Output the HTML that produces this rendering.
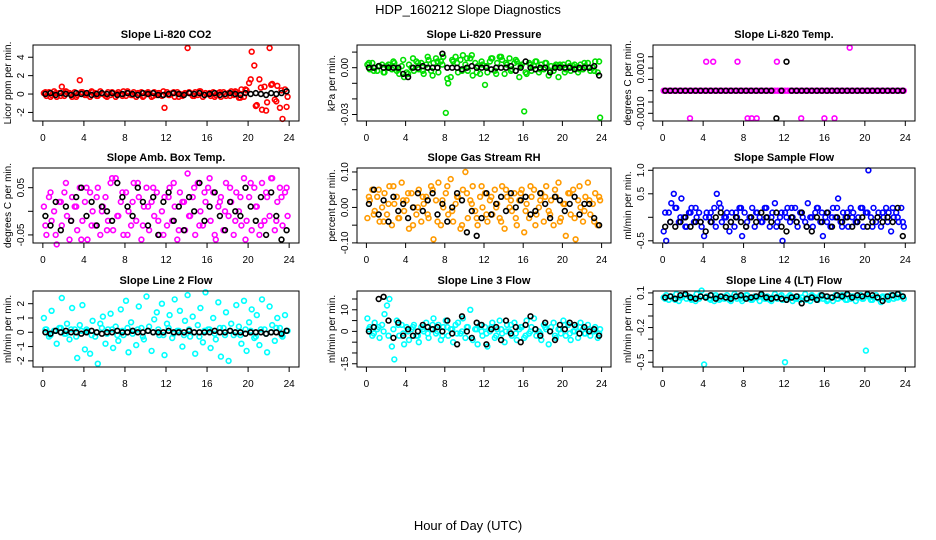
<!DOCTYPE html>
<html><head><meta charset="utf-8"><title>HDP_160212 Slope Diagnostics</title>
<style>
html,body{margin:0;padding:0;background:#fff;}
svg{display:block;font-family:"Liberation Sans",Arial,sans-serif;}
</style></head>
<body>
<svg id="chart" width="936" height="540" viewBox="0 0 936 540">
<text x="468" y="14" text-anchor="middle" font-size="13">HDP_160212  Slope Diagnostics</text>
<text x="468" y="530" text-anchor="middle" font-size="13">Hour of Day (UTC)</text>
</svg>
<script>
// shared hour values
const hoursC = [0.1,0.35,0.6,0.85,1.1,1.35,1.6,1.85,2.1,2.35,2.6,2.85,3.1,3.35,3.6,3.85,4.1,4.35,4.6,4.85,5.1,5.35,5.6,5.85,6.1,6.35,6.6,6.85,7.1,7.35,7.6,7.85,8.1,8.35,8.6,8.85,9.1,9.35,9.6,9.85,10.1,10.35,10.6,10.85,11.1,11.35,11.6,11.85,12.1,12.35,12.6,12.85,13.1,13.35,13.6,13.85,14.1,14.35,14.6,14.85,15.1,15.35,15.6,15.85,16.1,16.35,16.6,16.85,17.1,17.35,17.6,17.85,18.1,18.35,18.6,18.85,19.1,19.35,19.6,19.85,20.1,20.35,20.6,20.85,21.1,21.35,21.6,21.85,22.1,22.35,22.6,22.85,23.1,23.35,23.6,23.85];
const hoursB = [0.25,0.75,1.25,1.75,2.25,2.75,3.25,3.75,4.25,4.75,5.25,5.75,6.25,6.75,7.25,7.75,8.25,8.75,9.25,9.75,10.25,10.75,11.25,11.75,12.25,12.75,13.25,13.75,14.25,14.75,15.25,15.75,16.25,16.75,17.25,17.75,18.25,18.75,19.25,19.75,20.25,20.75,21.25,21.75,22.25,22.75,23.25,23.75];
const xTicks = [0,4,8,12,16,20,24];

// panel 1 CO2
const co2Color = [0.1,-0.2,0.2,-0.1,0.3,-0.3,0.1,0.8,-0.2,0.2,0.1,-0.3,0.2,-0.1,1.5,0.2,-0.1,0.1,-0.3,0.2,0.1,-0.2,0.3,0,-0.2,0.2,-0.1,0.1,-0.3,0.2,0,0.3,-0.2,0.1,-0.1,0.2,-0.3,0.1,0.2,-0.2,0.1,0,-0.3,0.2,-0.1,0.1,-0.2,-1.5,0.2,-0.1,0.1,-0.3,0.2,0,-0.2,0.1,5.0,0.1,-0.2,0.2,-0.1,0.3,-0.3,0.1,0,-0.2,0.2,-0.1,0.1,-0.3,0.2,-0.2,0.1,0.3,-0.1,0.2,-0.4,0.5,-0.3,0.4,1.2,4.6,3.1,-1.2,1.6,-1.7,0.8,-0.9,5.0,1.1,-0.6,0.9,-1.5,-2.7,0.5,-0.3];
const co2Band = [0.2,-0.3,0.1,-0.2,0.3,0,-0.3,0.2,-0.1,0.3,-0.2,0.1,-0.3,0.2,0,-0.2,0.3,-0.1,0.1,-0.3,0.2,-0.2,0.1,0.3,-0.1,0.2,-0.3,0,0.2,-0.2,0.3,-0.1,0.1,-0.3,0.2,0,-0.2,0.3,-0.4,0.5,1.6,-1.3,0.7,-1.8,1.0,-0.8,0.4,-1.4];
const co2Black = [0,0.1,-0.1,0.1,0,-0.1,0.1,0,0.1,-0.1,0,0.1,0,0.1,-0.1,0,0.1,0,-0.1,0.1,0,0.1,-0.1,-0.1,0,0.1,0,-0.1,0.1,0,0.1,-0.1,0,0.1,-0.1,0,0.1,0,-0.1,0.1,0,0.1,0,-0.1,0.1,0,0.1,0.3];
const co2Ticks = [-2,0,2,4];
const co2Labels = ["-2","0","2","4"];

// panel 2 pressure
const presColor = [.002,-.001,.003,.000,-.002,.001,.002,-.003,.001,.000,-.001,.003,-.002,-.004,.001,-.006,-.003,.002,.000,-.002,.004,-.001,.003,-.004,.002,.005,-.002,.003,.006,-.003,.004,.007,-.029,-.010,-.006,.004,.007,-.003,.005,.008,.002,-.002,.006,-.005,.003,.001,-.004,.002,-.011,-.003,.004,.006,-.002,.003,.007,.005,-.004,.002,.006,-.001,.003,.004,-.006,.002,-.028,-.004,.003,-.002,.001,.004,-.003,.002,-.001,.003,-.005,.001,-.002,.002,-.006,.001,.002,-.001,.003,-.002,.001,.000,-.003,.002,-.001,.001,.003,-.002,.000,.004,-.003,-.032];
const presBand = [.003,-.002,.001,-.003,.002,.004,-.001,.005,-.004,.006,.003,-.002,.007,-.005,.004,.002,-.007,.005,.003,-.002,.006,.008,-.003,.004,.001,.006,-.004,.007,.003,-.002,.005,.001,-.003,.002,.004,-.001,.003,-.002,.001,.002,-.003,.001,.002,-.001,.003,.000,-.002,.004];
const presBlack = [0,0,0.001,0,0,0,0,-.004,-.006,0,0,.001,0,0,0,.009,0,0,0,-.001,0,.001,0,0,0,-.001,0,0,0,.001,-.002,0,.004,0,-.001,0,0,-.003,0,0,0,0,-.001,0,0,0,.001,-.005];
const presTicks = [-0.03,-0.02,-0.01,0,0.01];
const presLabels = ["-0.03","","","0.00",""];

// panel 3 Li-820 temp
const tempMain = [0,0,0,0,0,0,0,0,0,0,0,0,0,0,0,0,0,0,0,0,0,0,0,0,0,0,0,0,0,0,0,0,0,0,0,0,0,0,0,0,0,0,0,0,0,0,0,0,0,0,0,0,0,0,0,0,0,0,0,0,0,0,0,0,0,0,0,0,0,0,0,0,0,0,0,0,0,0,0,0,0,0,0,0,0,0,0,0,0,0,0,0,0,0,0,0];
const tempOutHours = [4.3,5.0,7.4,11.3,18.5,2.7,8.4,8.8,9.3,13.7,16.0,17.0];
const tempOutValues = [0.00128,0.00128,0.00128,0.00128,0.0019,-0.00122,-0.00122,-0.00122,-0.00122,-0.00122,-0.00122,-0.00122];
const tempBlack = [0,0,0,0,0,0,0,0,0,0,0,0,0,0,0,0,0,0,0,0,0,0,-0.00122,0,0.00128,0,0,0,0,0,0,0,0,0,0,0,0,0,0,0,0,0,0,0,0,0,0,0];
const tempTicks = [-0.001,-0.0005,0,0.0005,0.001,0.0015];
const tempLabels = ["-0.0010","","","","0.0010",""];

// panel 4 amb box temp
const ambColor = [0.01,-0.05,0.03,-0.02,0.00,-0.07,0.02,-0.03,0.04,-0.01,-0.06,0.03,0.01,-0.04,0.05,-0.02,0.02,-0.06,0.04,0.00,-0.03,0.05,-0.05,0.01,0.03,-0.02,0.06,-0.04,0.07,-0.01,0.02,-0.05,0.04,0.00,-0.03,0.06,-0.02,0.03,-0.06,0.01,0.05,-0.04,0.02,-0.01,0.04,-0.05,0.00,0.03,-0.03,0.05,-0.02,0.01,-0.06,0.04,0.02,-0.04,0.08,-0.01,0.03,-0.05,0.06,0.00,-0.03,0.02,0.05,-0.02,0.04,-0.06,0.01,0.03,-0.04,0.06,-0.01,0.02,-0.05,0.04,0.00,-0.03,0.07,-0.02,0.03,-0.04,0.05,0.01,-0.05,0.06,-0.02,0.03,-0.01,0.07,-0.04,0.02,0.05,-0.03,0.04,-0.01];
const ambBand = [-0.03,0.04,-0.05,0.02,0.06,-0.02,0.01,-0.06,0.05,-0.03,0.03,0.00,-0.04,0.07,-0.01,0.04,-0.05,0.02,0.06,-0.03,0.01,0.05,-0.02,-0.05,0.03,0.06,-0.04,0.02,-0.01,0.05,-0.03,0.04,0.07,-0.05,0.02,0.00,0.05,-0.02,0.03,-0.06,0.06,0.01,-0.03,0.04,0.07,-0.02,0.03,0.05];
const ambBlack = [-0.01,-0.03,0.02,-0.04,0.01,-0.02,0.03,0.05,-0.01,0.02,-0.03,0.01,0.00,-0.02,0.06,0.03,0.01,-0.01,0.05,0.02,-0.03,0.03,-0.05,0.02,0.04,-0.02,0.01,-0.04,0.03,0.00,0.06,-0.02,0.01,0.04,-0.01,-0.04,0.02,0.00,-0.01,0.05,0.01,-0.02,0.03,-0.05,0.04,-0.01,-0.06,-0.04];
const ambTicks = [-0.05,0,0.05];
const ambLabels = ["-0.05","","0.05"];

// panel 5 gas stream RH
const rhColor = [-0.03,0.02,0.05,-0.01,0.03,-0.04,0.00,0.04,-0.02,0.06,-0.05,0.01,0.03,-0.03,0.07,-0.01,0.02,-0.06,0.04,0.00,-0.02,0.05,-0.04,0.01,0.03,-0.03,0.06,-0.09,0.02,0.07,-0.05,0.00,0.04,-0.02,0.08,-0.04,0.01,0.03,-0.06,0.05,0.10,-0.03,0.02,0.06,-0.01,-0.05,0.03,0.00,0.04,-0.04,0.02,-0.02,0.05,0.01,-0.03,0.06,-0.06,0.03,0.00,-0.01,0.04,-0.05,0.02,0.05,-0.07,0.01,-0.03,0.03,0.05,-0.02,0.00,0.04,-0.04,0.06,-0.01,0.02,-0.05,0.03,0.07,-0.03,0.01,-0.08,0.04,-0.02,0.05,-0.09,0.02,0.00,-0.04,0.03,0.07,-0.02,0.01,0.04,-0.05,0.02];
const rhBand = [0.03,-0.02,0.05,-0.04,0.01,0.06,-0.03,0.02,0.04,-0.05,0.00,0.03,-0.02,0.05,-0.04,0.02,0.06,-0.01,0.03,-0.05,0.04,0.01,-0.03,0.06,-0.02,0.03,0.00,-0.04,0.05,0.02,-0.03,0.04,-0.01,0.06,-0.05,0.02,0.03,-0.02,0.05,-0.04,0.01,0.04,-0.03,0.06,-0.01,0.02,-0.04,0.03];
const rhBlack = [0.01,0.05,-0.02,0.02,-0.04,0.03,-0.01,0.01,-0.03,0.00,0.04,-0.01,0.02,0.04,-0.02,0.01,-0.04,0.00,0.04,0.02,-0.07,-0.01,-0.08,-0.03,0.04,-0.02,0.01,0.03,-0.01,0.04,0.00,0.02,0.03,-0.02,-0.01,0.04,0.01,-0.03,0.03,0.02,-0.01,0.01,0.03,-0.02,0.01,0.01,-0.03,-0.05];
const rhTicks = [-0.1,-0.05,0,0.05,0.1];
const rhLabels = ["-0.10","","0.00","","0.10"];

// panel 6 sample flow
const sfColor = [-0.3,-0.5,0.1,0.3,0.5,0.2,-0.1,0.4,0.0,-0.2,0.1,0.2,-0.1,0.0,0.1,-0.2,-0.4,0.1,0.0,-0.1,0.2,0.5,0.3,-0.1,0.0,0.1,-0.3,0.1,-0.2,0.0,0.2,-0.4,0.1,-0.1,0.0,0.2,-0.2,0.1,0.0,-0.1,0.2,0.0,-0.2,0.1,0.3,-0.1,0.0,-0.5,0.1,0.2,-0.1,0.0,0.2,-0.2,0.1,0.0,-0.1,0.3,0.0,-0.2,0.1,0.2,-0.1,-0.4,0.0,0.1,-0.2,0.2,0.0,0.4,-0.1,0.1,0.0,-0.2,0.2,0.1,-0.1,0.0,0.2,-0.2,0.1,1.0,0.0,0.2,-0.1,0.1,-0.2,0.0,0.2,0.1,-0.3,0.0,0.1,-0.1,0.2,-0.2];
const sfBand = [0.1,-0.1,0.2,0.0,-0.2,0.1,0.2,-0.1,0.0,0.1,-0.2,0.2,0.0,-0.1,0.1,0.2,-0.2,0.0,0.1,-0.1,0.2,0.0,-0.2,0.1,0.0,0.2,-0.1,0.1,-0.2,0.0,0.2,0.1,-0.1,0.0,0.2,-0.2,0.1,0.0,-0.1,0.2,0.1,-0.2,0.0,0.1,-0.1,0.2,0.0,-0.1];
const sfBlack = [-0.2,-0.1,-0.2,-0.1,0.0,-0.2,-0.1,-0.1,-0.3,-0.1,0.0,0.1,-0.2,-0.1,0.0,-0.1,-0.2,0.0,-0.1,0.1,0.0,-0.1,0.1,-0.2,-0.3,0.0,-0.1,0.1,-0.2,-0.3,0.0,-0.1,0.1,-0.2,0.0,-0.1,0.0,-0.2,-0.1,0.0,-0.2,-0.1,0.0,-0.1,0.0,-0.1,0.2,-0.4];
const sfTicks = [-0.5,0,0.5,1];
const sfLabels = ["-0.5","","0.5","1.0"];

// panel 7 line 2 flow
const l2Color = [1.0,0.2,-0.3,1.5,0.1,-0.8,0.3,2.4,-0.1,0.6,-0.5,1.7,0.2,-1.8,0.5,1.9,-1.2,0.1,-1.5,0.8,-0.3,-2.2,0.6,1.1,-0.8,0.2,1.3,-1.1,0.4,-0.6,1.6,-0.2,2.2,-1.4,0.7,0.1,-0.9,1.8,0.3,-0.5,2.5,0.4,-1.3,0.9,1.4,-0.2,2.0,-1.6,0.6,1.2,-0.4,2.3,0.1,1.5,-1.0,0.8,2.6,-0.3,1.1,-1.5,0.5,1.7,-0.7,2.8,0.2,-1.1,1.0,-0.5,2.1,-1.7,0.3,1.4,-2.0,0.6,-0.2,1.9,0.4,-0.8,2.2,-1.3,0.7,1.6,-0.4,1.2,-0.9,2.3,0.2,-1.4,1.8,0.5,-0.6,1.0,0.3,-0.3,1.2,0.1];
const l2Band = [0.2,-0.2,0.1,0.3,-0.1,0.2,-0.3,0.1,0.2,-0.2,0.0,0.3,-0.1,0.2,-0.2,0.1,0.3,-0.1,0.2,-0.3,0.1,0.0,0.2,-0.2,0.3,-0.1,0.1,-0.2,0.2,0.0,-0.3,0.1,0.2,-0.1,0.3,-0.2,0.1,0.0,-0.2,0.2,0.1,-0.3,0.2,-0.1,0.0,0.3,-0.2,0.1];
const l2Black = [0.0,-0.1,0.1,0.0,0.1,0.0,0.0,-0.1,0.0,0.1,0.0,-0.1,0.0,0.0,0.1,0.0,0.0,0.1,0.0,0.0,0.1,0.0,0.0,0.0,0.1,0.0,0.0,0.0,0.1,0.0,0.0,0.0,0.0,0.1,0.0,0.0,0.1,0.0,0.0,-0.1,0.0,0.0,0.0,-0.1,0.0,0.0,-0.1,0.1];
const l2Ticks = [-2,-1,0,1,2];
const l2Labels = ["-2","-1","0","1","2"];

// panel 8 line 3 flow
const l3Color = [6,2,-2,4,1,-3,3,8,12,15,-7,-13,5,-2,3,-6,2,-4,1,3,-2,-5,2,0,4,-3,1,6,-1,3,-4,2,5,-2,1,-5,3,4,-1,6,-3,2,10,-4,1,-6,3,-2,2,-7,0,4,-3,1,5,-1,-5,3,0,-2,4,-4,1,2,-3,5,-1,2,6,-2,0,-4,3,1,-6,2,4,-3,1,-1,5,-2,3,-4,0,2,-3,4,1,-1,3,-2,0,2,-3,1];
const l3Band = [1,-1,2,0,-2,1,3,-1,0,2,-2,1,-1,3,0,-2,2,1,-1,0,2,-3,1,0,-1,2,-2,1,0,3,-1,2,-2,0,1,-1,2,0,-2,1,3,-1,0,2,-1,1,0,-1];
const l3Black = [0,2,15,16,5,-3,4,-2,1,-2,0,3,2,1,2,0,5,-1,-6,7,0,-3,4,3,-6,1,2,-4,5,-1,2,-5,3,7,1,-2,4,0,-4,3,1,4,3,-1,2,0,1,-2];
const l3Ticks = [-15,-10,-5,0,5,10,15];
const l3Labels = ["-15","","","0","","10",""];

// panel 9 line 4 (LT) flow
const l4Color = [0.06,0.08,0.04,0.07,0.05,0.09,0.03,0.06,0.08,0.05,0.07,0.04,0.06,0.09,0.05,0.12,-0.52,0.07,0.05,0.08,0.03,0.06,0.04,0.07,0.05,0.08,0.04,0.06,0.09,0.05,0.07,0.03,0.06,0.08,0.05,0.04,0.07,0.06,0.03,0.08,0.05,0.07,0.04,0.06,0.09,0.05,0.07,0.04,-0.50,0.06,0.08,0.03,0.05,0.07,0.04,0.06,0.09,0.05,0.03,0.07,0.06,0.04,0.08,0.05,0.07,0.04,0.06,0.03,0.08,0.05,0.07,0.06,0.04,0.08,0.05,0.07,0.03,0.06,0.08,0.05,-0.40,0.07,0.04,0.06,0.08,0.05,0.02,0.06,0.07,0.04,0.08,0.05,0.06,0.09,0.07,0.05];
const l4Band = [0.05,0.07,0.04,0.06,0.08,0.05,0.03,0.07,0.06,0.04,0.08,0.05,0.06,0.03,0.07,0.05,0.08,0.04,0.06,0.07,0.05,0.03,0.06,0.08,0.04,0.07,0.05,0.06,0.04,0.08,0.05,0.07,0.03,0.06,0.05,0.08,0.04,0.07,0.06,0.05,0.08,0.04,0.06,0.07,0.05,0.08,0.06,0.07];
const l4Black = [0.06,0.07,0.05,0.08,0.09,0.06,0.05,0.07,0.06,0.08,0.05,0.07,0.06,0.05,0.07,0.08,0.05,0.06,0.07,0.09,0.06,0.05,0.06,0.05,0.04,0.06,0.07,0.01,0.05,0.06,0.04,0.08,0.07,0.06,0.08,0.07,0.09,0.06,0.08,0.07,0.09,0.08,0.06,0.03,0.07,0.08,0.09,0.07];
const l4Ticks = [-0.5,-0.4,-0.3,-0.2,-0.1,0,0.1];
const l4Labels = ["-0.5","","","-0.2","","","0.1"];

const NS = "http://www.w3.org/2000/svg";
const svg = document.getElementById("chart");
function mk(tag, attrs, parent){
  const e = document.createElementNS(NS, tag);
  for (const k in attrs) e.setAttribute(k, attrs[k]);
  (parent||svg).appendChild(e);
  return e;
}
const cols = [[33,299],[357,611],[653,915]];
const rows = [[45,121],[168,243],[291,367]];

function panel(name, col, row, title, ytitle, ymin, ymax, ticks, labels, series){
  const [x0,x1] = cols[col], [y0,y1] = rows[row];
  const g = mk("g", {});
  
  
  const xs = v => x0 + (v + 0.96) / 25.92 * (x1 - x0);
  const ys = v => y1 - (v - ymin) / (ymax - ymin) * (y1 - y0);
  const t = mk("text", {x:(x0+x1)/2, y:y0-7, "text-anchor":"middle", "font-size":"11", "font-weight":"bold"}, g);
  t.textContent = title;
  
  
  const sg = mk("g", {fill:"none", "stroke-width":"1.6"}, g);
  
  
  series.forEach(s => {
    s.y.forEach((v, i) => {
      const c = mk("circle", {cx:xs(s.x[i]).toFixed(1), cy:ys(v).toFixed(1), r:"2.4", stroke:s.c}, sg);
      
      
    });
  });
  const b = mk("rect", {x:x0, y:y0, width:x1-x0, height:y1-y0, fill:"none", stroke:"#000", "stroke-width":"1"}, g);
  
  
  const xa = mk("g", {stroke:"#000", "stroke-width":"1"}, g);
  
  
  mk("line", {x1:xs(0), x2:xs(24), y1:y1, y2:y1}, xa);
  xTicks.forEach(v => {
    mk("line", {x1:xs(v), x2:xs(v), y1:y1, y2:y1+5}, xa);
    const l = mk("text", {x:xs(v), y:y1+20, "text-anchor":"middle", "font-size":"10", stroke:"none", fill:"#000"}, xa);
    l.textContent = String(v);
    
    
  });
  const ya = mk("g", {stroke:"#000", "stroke-width":"1"}, g);
  
  
  ticks.forEach((v, i) => {
    const yy = ys(v);
    mk("line", {x1:x0-5, x2:x0, y1:yy, y2:yy}, ya);
    if (labels[i]) {
      const l = mk("text", {x:0, y:0, "text-anchor":"middle", "font-size":"10", stroke:"none", fill:"#000", transform:`translate(${x0-9},${yy}) rotate(-90)`}, ya);
      l.textContent = labels[i];
      
      
    }
  });
  const yt = mk("text", {x:0, y:0, "text-anchor":"middle", "font-size":"10", transform:`translate(${x0-22},${(y0+y1)/2}) rotate(-90)`}, g);
  yt.textContent = ytitle;
  
  
}

panel("co2", 0, 0, "Slope Li-820 CO2", "Licor ppm per min.", -2.93, 5.33, co2Ticks, co2Labels,
  [{x:hoursC, y:co2Color, c:"#ff0000", n:"co2"}, {x:hoursB, y:co2Band, c:"#ff0000", n:"co2-band"}, {x:hoursB, y:co2Black, c:"#000", n:"co2-black"}]);
panel("pressure", 1, 0, "Slope Li-820 Pressure", "kPa per min.", -0.03417, 0.01455, presTicks, presLabels,
  [{x:hoursC, y:presColor, c:"#00e000", n:"pressure"}, {x:hoursB, y:presBand, c:"#00e000", n:"pressure-band"}, {x:hoursB, y:presBlack, c:"#000", n:"pressure-black"}]);
panel("li820-temp", 2, 0, "Slope Li-820 Temp.", "degrees C per min.", -0.00134, 0.00202, tempTicks, tempLabels,
  [{x:hoursC, y:tempMain, c:"#ff00ff", n:"temp"}, {x:tempOutHours, y:tempOutValues, c:"#ff00ff", n:"temp-outlier"}, {x:hoursB, y:tempBlack, c:"#000", n:"temp-black"}]);
panel("amb-temp", 0, 1, "Slope Amb. Box Temp.", "degrees C per min.", -0.0671, 0.0917, ambTicks, ambLabels,
  [{x:hoursC, y:ambColor, c:"#ff00ff", n:"amb"}, {x:hoursB, y:ambBand, c:"#ff00ff", n:"amb-band"}, {x:hoursB, y:ambBlack, c:"#000", n:"amb-black"}]);
panel("rh", 1, 1, "Slope Gas Stream RH", "percent per min.", -0.1003, 0.1112, rhTicks, rhLabels,
  [{x:hoursC, y:rhColor, c:"#ff9a00", n:"rh"}, {x:hoursB, y:rhBand, c:"#ff9a00", n:"rh-band"}, {x:hoursB, y:rhBlack, c:"#000", n:"rh-black"}]);
panel("sample-flow", 2, 1, "Slope Sample Flow", "ml/min per min.", -0.547, 1.049, sfTicks, sfLabels,
  [{x:hoursC, y:sfColor, c:"#0000ff", n:"sample-flow"}, {x:hoursB, y:sfBand, c:"#0000ff", n:"sample-flow-band"}, {x:hoursB, y:sfBlack, c:"#000", n:"sample-flow-black"}]);
panel("line2", 0, 2, "Slope Line 2 Flow", "ml/min per min.", -2.43, 2.888, l2Ticks, l2Labels,
  [{x:hoursC, y:l2Color, c:"#00ffff", n:"line2"}, {x:hoursB, y:l2Band, c:"#00ffff", n:"line2-band"}, {x:hoursB, y:l2Black, c:"#000", n:"line2-black"}]);
panel("line3", 1, 2, "Slope Line 3 Flow", "ml/min per min.", -16.5, 18.7, l3Ticks, l3Labels,
  [{x:hoursC, y:l3Color, c:"#00ffff", n:"line3"}, {x:hoursB, y:l3Band, c:"#00ffff", n:"line3-band"}, {x:hoursB, y:l3Black, c:"#000", n:"line3-black"}]);
panel("line4", 2, 2, "Slope Line 4 (LT) Flow", "ml/min per min.", -0.5416, 0.1165, l4Ticks, l4Labels,
  [{x:hoursC, y:l4Color, c:"#00ffff", n:"line4"}, {x:hoursB, y:l4Band, c:"#00ffff", n:"line4-band"}, {x:hoursB, y:l4Black, c:"#000", n:"line4-black"}]);
</script>
</body></html>
